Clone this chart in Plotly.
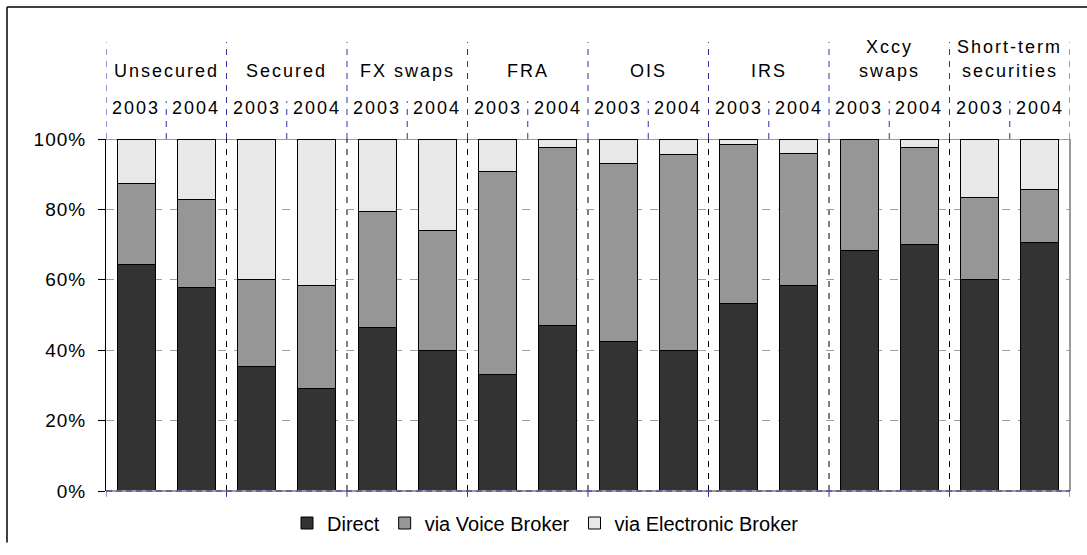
import plotly.graph_objects as go

# Market segments (two years each) and the share of turnover by trading channel, in %
segments = ["Unsecured", "Secured", "FX swaps", "FRA", "OIS", "IRS",
            "Xccy<br>swaps", "Short-term<br>securities"]
years = ["2003", "2004"]

direct = [64.3, 57.8, 35.4, 29.0, 46.4, 39.9, 33.2, 46.9,
          42.4, 40.0, 53.2, 58.4, 68.3, 70.1, 60.2, 70.6]
voice_broker = [23.1, 25.0, 24.8, 29.5, 32.9, 34.1, 57.6, 50.8,
                50.7, 55.5, 45.2, 37.6, 31.7, 27.6, 23.1, 15.0]
electronic_broker = [12.6, 17.2, 39.8, 41.5, 20.7, 26.0, 9.2, 2.3,
                     6.9, 4.5, 1.6, 4.0, 0.0, 2.3, 16.7, 14.4]

y_ticks = [0, 20, 40, 60, 80, 100]
y_tick_labels = ["0%", "20%", "40%", "60%", "80%", "100%"]

series = [
    ("Direct", direct, "#333333"),
    ("via Voice Broker", voice_broker, "#969696"),
    ("via Electronic Broker", electronic_broker, "#e8e8e8"),
]

n_bars = len(segments) * len(years)
xpos = list(range(n_bars))

fig = go.Figure()
for name, vals, color in series:
    fig.add_trace(go.Bar(
        x=xpos, y=vals, name=name, width=0.63,
        marker=dict(color=color, line=dict(color="#000000", width=1)),
    ))

# Plot-area geometry in pixels (used to place header rows in paper units)
W, H = 1087, 555
ML, MR, MT, MB = 106, 17, 139, 53
plot_w = W - ML - MR
plot_h = H - MT - MB


def py(pixel_y):
    return (H - MB - pixel_y) / plot_h


def px(pixel_x):
    return (pixel_x - ML) / plot_w


annotations = []
hdr_font = dict(family="Liberation Sans", size=18, color="#000000")
for g, seg in enumerate(segments):
    cx = 2 * g + 0.5
    lines = seg.split("<br>")
    rows = [69] if len(lines) == 1 else [44, 69]
    for txt, row in zip(lines, rows):
        annotations.append(dict(x=cx, y=py(row), xref="x", yref="paper",
                                text=txt, showarrow=False, font=hdr_font,
                                xanchor="center", yanchor="middle"))
    for k, yr in enumerate(years):
        annotations.append(dict(x=2 * g + k, y=py(107), xref="x", yref="paper",
                                text=yr, showarrow=False, font=hdr_font,
                                xanchor="center", yanchor="middle"))

shapes = []
blue = "#3333a0"
# Header separators between segments and between years
for b in range(len(segments) + 1):
    xb = 2 * b - 0.5
    shapes.append(dict(type="line", xref="x", yref="paper", x0=xb, x1=xb,
                       y0=1.0, y1=py(39), line=dict(color=blue, width=1, dash="6px,6px")))
for g in range(len(segments)):
    xm = 2 * g + 0.5
    shapes.append(dict(type="line", xref="x", yref="paper", x0=xm, x1=xm,
                       y0=1.0, y1=py(100), line=dict(color=blue, width=1, dash="6px,6px")))
# Segment separators inside the plot
for b in range(1, len(segments)):
    xb = 2 * b - 0.5
    shapes.append(dict(type="line", xref="x", yref="y", x0=xb, x1=xb, y0=0, y1=100,
                       line=dict(color="#000000", width=1, dash="6px,6px"), layer="below"))
# Plot frame: top and right in grey, bottom with dashed blue
shapes.append(dict(type="line", xref="paper", yref="y", x0=0, x1=1, y0=100, y1=100,
                   line=dict(color="#999999", width=2), layer="below"))
shapes.append(dict(type="line", xref="paper", yref="paper", x0=1, x1=1, y0=0, y1=1,
                   line=dict(color="#999999", width=2)))
shapes.append(dict(type="line", xref="paper", yref="paper", x0=0, x1=1, y0=0, y1=0,
                   line=dict(color="#999999", width=2)))
shapes.append(dict(type="line", xref="paper", yref="paper", x0=0, x1=1, y0=0, y1=0,
                   line=dict(color=blue, width=1, dash="6px,4px")))
for b in range(len(segments) + 1):
    xb = 2 * b - 0.5
    shapes.append(dict(type="line", xref="x", yref="paper", x0=xb, x1=xb,
                       y0=0, y1=py(508), line=dict(color=blue, width=1)))
# Outer chart frame (left and top edges)
shapes.append(dict(type="line", xref="paper", yref="paper",
                   x0=px(7), x1=px(7), y0=py(555), y1=py(3),
                   line=dict(color="#000000", width=1.5)))
shapes.append(dict(type="line", xref="paper", yref="paper",
                   x0=px(7), x1=px(1087), y0=py(3), y1=py(3),
                   line=dict(color="#000000", width=1.5)))

fig.update_layout(
    width=W, height=H,
    margin=dict(l=ML, r=MR, t=MT, b=MB),
    barmode="stack",
    paper_bgcolor="#ffffff", plot_bgcolor="#ffffff",
    showlegend=True,
    legend=dict(orientation="h", x=px(287), xanchor="left",
                y=py(535), yanchor="middle",
                font=dict(family="Liberation Sans", size=20, color="#000000"),
                itemwidth=30, traceorder="normal", bgcolor="rgba(0,0,0,0)"),
    xaxis=dict(range=[-0.5, n_bars - 0.5], showticklabels=False, showgrid=False,
               zeroline=False, showline=False, ticks=""),
    yaxis=dict(range=[0, 100], tickmode="array", tickvals=y_ticks, ticktext=y_tick_labels,
               showgrid=True, gridcolor="#a0a0a0", griddash="8px,8px", gridwidth=1,
               zeroline=False, showline=True, linecolor="#000000", linewidth=1,
               ticks="outside", ticklen=7, tickcolor="#000000", ticklabelstandoff=8,
               tickfont=dict(family="Liberation Sans", size=19, color="#000000")),
    annotations=annotations,
    shapes=shapes,
    font=dict(family="Liberation Sans"),
)

# Widen the letter spacing of the header and axis labels
spacing_js = """
var gd = document.getElementById('{plot_id}');
gd.querySelectorAll('.annotation-text').forEach(function (t) { t.style.letterSpacing = '2px'; });
gd.querySelectorAll('.ytick text').forEach(function (t) { t.style.letterSpacing = '1px'; });
"""

fig.write_html("out.html", post_script=spacing_js)
